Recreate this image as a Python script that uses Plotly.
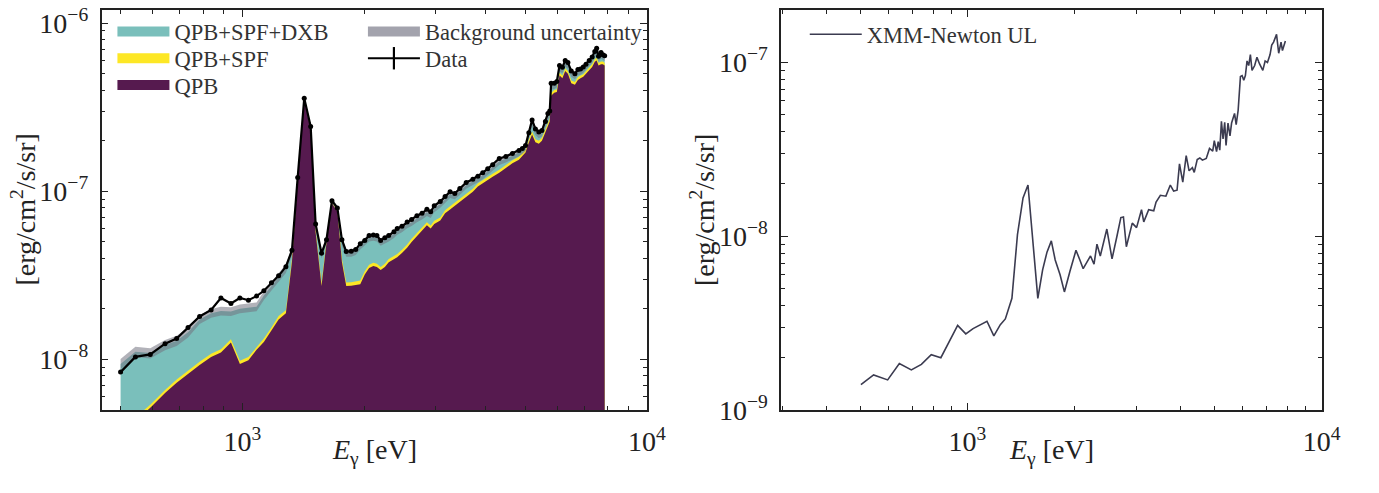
import plotly.graph_objects as go

# ---------------- Left panel: background model vs data (units of 1e-9 erg/cm2/s/sr) -------------
E_bkg = [500, 544, 592, 644, 688, 734, 784, 837, 885, 937,
         986, 1035, 1084, 1130, 1180, 1229, 1281, 1326, 1370, 1422,
         1475, 1517, 1569, 1614, 1665, 1717, 1762, 1806, 1858, 1906,
         1956, 2007, 2057, 2107, 2150, 2197, 2250, 2300, 2370, 2414,
         2480, 2554, 2620, 2700, 2780, 2858, 2920, 2980, 3084, 3170,
         3261, 3350, 3447, 3575, 3712, 3820, 3927, 4040, 4156, 4315,
         4480, 4650, 4826, 4920, 5010, 5105, 5201, 5300, 5404, 5500,
         5611, 5690, 5750, 5796, 5900, 5988, 6079, 6180, 6280, 6377,
         6500, 6636, 6750, 6850, 6960, 7068, 7200, 7320, 7432, 7510,
         7590, 7700, 7780, 7860]

data_flux = [8.4, 10.35, 10.7, 12.4, 13.3, 15.5, 18.0, 19.7, 23.2, 21.5,
             23.2, 22.5, 23.8, 25.6, 28.6, 31.4, 35.6, 44.6, 121, 358,
             243, 64, 42.8, 51.5, 88, 79.7, 51.5, 43.8, 44.0, 45.0,
             48.8, 51.0, 54.6, 55.0, 54.5, 51.0, 53.0, 54.5, 57.5, 60.0,
             62.0, 65.6, 68.0, 71.6, 74.0, 78.2, 75.5, 82.0, 87.0, 93.0,
             99.3, 97.0, 104, 113, 118, 123, 129, 136, 144, 157,
             161, 168, 175, 180, 187, 223, 266, 235, 225, 230,
             260, 290, 300, 440, 440, 450, 560, 547, 600, 583,
             520, 500, 530, 535, 550, 571, 600, 630, 680, 710,
             637, 670, 650, 640]

qpb_spf_dxb = [9.4, 11.1, 10.9, 12.2, 12.9, 14.5, 17.3, 18.8, 19.4, 19.3,
               20.0, 20.3, 20.6, 24.0, 27.3, 30.9, 34.7, 43.8, 120, 355,
               240, 63, 42, 51.5, 87.5, 79, 50, 43, 43, 44,
               47.5, 50, 53, 53.5, 53, 50, 51.5, 53, 55.5, 58,
               60, 63.5, 65.5, 69, 71.5, 75, 73, 79, 84, 90,
               96, 94.5, 100, 109, 114, 119, 124, 131, 139, 151,
               156, 163, 170, 175, 182, 215, 255, 228, 218, 223,
               252, 280, 290, 425, 428, 438, 545, 530, 580, 565,
               505, 488, 515, 520, 535, 555, 585, 610, 660, 685,
               620, 650, 635, 625]

qpb_spf = [3.92, 4.5, 5.38, 6.58, 7.58, 8.57, 9.67, 10.8, 11.5, 13.2,
           9.82, 10.35, 11.9, 13.3, 15.5, 18.1, 19.6, 39.5, 117, 352,
           237, 59, 28.6, 50.5, 86, 77.5, 39.7, 28.7, 28.8, 29,
           29.5, 33.5, 36.6, 37.6, 37.1, 35.5, 37.1, 39.6, 41.4, 42.3,
           44.9, 48.2, 52.2, 56.4, 60.5, 65.5, 62.6, 66.8, 69.9, 77.2,
           81.4, 85.5, 90.7, 97, 103.5, 111.5, 116.7, 120.9, 127, 134.5,
           143.8, 153, 160.4, 168.6, 177, 203, 227, 204, 200, 208,
           232, 255, 270, 385, 401, 405, 509, 488, 540, 519,
           457, 447, 478, 488, 498, 519, 550, 571, 612, 623,
           582, 592, 592, 582]

qpb = [3.75, 4.3, 5.15, 6.3, 7.25, 8.2, 9.25, 10.35, 11.0, 12.6,
       9.4, 9.9, 11.4, 12.7, 14.8, 17.3, 18.8, 38, 115, 350,
       235, 57, 27.3, 49.3, 84.5, 76, 38, 27.3, 27.4, 27.6,
       28, 32, 35, 36, 35.5, 34, 35.5, 37.9, 39.6, 40.5,
       43, 46.2, 50, 54, 58, 62.8, 60, 64, 67, 74,
       78, 82, 87, 93, 99.3, 107, 112, 116, 122, 129,
       138, 147, 154, 162, 170, 195, 218, 196, 192, 200,
       223, 245, 260, 370, 386, 390, 490, 470, 520, 500,
       440, 430, 460, 470, 480, 500, 530, 550, 590, 600,
       560, 570, 570, 560]

# fractional background uncertainty (half-width of the grey band)
bkg_unc = [0.07, 0.07, 0.07, 0.07, 0.07, 0.07, 0.06, 0.06, 0.06, 0.06,
           0.06, 0.06, 0.06, 0.06, 0.06, 0.06, 0.06, 0.05, 0.04, 0.04,
           0.04, 0.05, 0.05, 0.05, 0.04, 0.04, 0.05, 0.05, 0.05, 0.05,
           0.05, 0.05, 0.05, 0.05, 0.05, 0.05, 0.05, 0.05, 0.05, 0.05,
           0.05, 0.05, 0.05, 0.05, 0.05, 0.05, 0.05, 0.05, 0.05, 0.05,
           0.05, 0.05, 0.05, 0.05, 0.05, 0.05, 0.05, 0.05, 0.05, 0.05,
           0.05, 0.05, 0.05, 0.05, 0.05, 0.05, 0.05, 0.05, 0.05, 0.05,
           0.05, 0.05, 0.05, 0.05, 0.05, 0.05, 0.05, 0.05, 0.05, 0.05,
           0.05, 0.05, 0.05, 0.05, 0.05, 0.05, 0.05, 0.05, 0.05, 0.05,
           0.05, 0.05, 0.05, 0.05]

# ---------------- Right panel: XMM-Newton upper limit (units of 1e-9) -------------
E_ul = [500, 543, 595, 642, 694, 741, 790, 841, 938, 989,
        1037, 1135, 1187, 1238, 1279, 1335, 1384, 1435, 1482, 1580,
        1630, 1677, 1725, 1769, 1826, 1878, 1948, 2025, 2077, 2122,
        2226, 2277, 2321, 2372, 2475, 2560, 2643, 2711, 2757, 2810,
        2920, 3003, 3101, 3147, 3249, 3358, 3409, 3506, 3634, 3740,
        3822, 3908, 3970, 4056, 4147, 4226, 4317, 4370, 4455, 4532,
        4608, 4725, 4826, 4928, 4979, 5052, 5107, 5159, 5215, 5270,
        5327, 5374, 5443, 5513, 5571, 5679, 5740, 5814, 5901, 5966,
        6030, 6094, 6160, 6227, 6295, 6363, 6474, 6570, 6683, 6826,
        6929, 7035, 7155, 7232, 7320, 7463, 7568, 7685, 7755, 7836, 7905]

xmm_ul = [1.40, 1.59, 1.49, 1.85, 1.70, 1.83, 2.08, 2.0, 3.07, 2.74,
          2.94, 3.24, 2.67, 3.1, 3.34, 4.39, 10.2, 16.6, 19.7, 4.39,
          6.4, 8.1, 9.4, 7.3, 6.0, 4.78, 6.3, 8.3, 7.3, 6.5,
          7.7, 6.9, 9.0, 7.7, 11.0, 7.4, 10.0, 12.8, 12.9, 8.7,
          11.9, 11.2, 14.2, 12.1, 14.2, 14.0, 15.7, 17.2, 17.0, 19.7,
          18.2, 18.4, 26.1, 20.5, 29.1, 23.8, 24.8, 23.3, 27.6, 28.2,
          27.4, 28.0, 32.0, 30.9, 35.5, 30.7, 35.0, 31.3, 45.8, 36.3,
          45.2, 33.3, 44.8, 37.8, 44.8, 50.9, 43.9, 53.0, 83, 84,
          79, 84, 102, 96, 111, 90, 96, 107, 98, 90,
          102, 100, 111, 126, 131, 145, 113, 131, 117, 128, 133]

x_tick_vals = [1e3, 1e4]
x_tick_text = ["10<sup>3</sup>", "10<sup>4</sup>"]
y1_tick_vals = [1e-8, 1e-7, 1e-6]
y1_tick_text = ["10<sup>\u22128</sup>", "10<sup>\u22127</sup>", "10<sup>\u22126</sup>"]
y2_tick_vals = [1e-9, 1e-8, 1e-7]
y2_tick_text = ["10<sup>\u22129</sup>", "10<sup>\u22128</sup>", "10<sup>\u22127</sup>"]

n = len(E_bkg)
for arr in (data_flux, qpb_spf_dxb, qpb_spf, qpb, bkg_unc):
    assert len(arr) == n, len(arr)
assert len(E_ul) == len(xmm_ul)

UNIT = 1e-9
FLOOR = 1e-12
FONT = "Liberation Serif"
INK = "#222222"
C_TEAL, C_YEL, C_PUR = "#7abfbb", "#fde725", "#561a4f"
C_BAND = "rgba(115,115,128,0.55)"

def scaled(v):
    return [a * UNIT for a in v]

fig = go.Figure()

def layer(top, color):
    xs = E_bkg + E_bkg[::-1]
    ys = scaled(top) + [FLOOR] * n
    fig.add_trace(go.Scatter(x=xs, y=ys, mode="lines", fill="toself", fillcolor=color,
                             line=dict(width=0, color=color), showlegend=False,
                             hoverinfo="skip", xaxis="x", yaxis="y"))

layer(qpb_spf_dxb, C_TEAL)
layer(qpb_spf, C_YEL)
layer(qpb, C_PUR)

tot = scaled(qpb_spf_dxb)
hi = [t * (1 + u) for t, u in zip(tot, bkg_unc)]
lo = [t * (1 - u) for t, u in zip(tot, bkg_unc)]
fig.add_trace(go.Scatter(x=E_bkg + E_bkg[::-1], y=hi + lo[::-1], mode="lines", fill="toself",
                         fillcolor=C_BAND, line=dict(width=0), showlegend=False,
                         hoverinfo="skip", xaxis="x", yaxis="y"))

fig.add_trace(go.Scatter(x=E_bkg, y=scaled(data_flux), mode="lines+markers",
                         line=dict(color="black", width=2.2),
                         marker=dict(color="black", size=5),
                         showlegend=False, xaxis="x", yaxis="y"))

fig.add_trace(go.Scatter(x=E_ul, y=scaled(xmm_ul), mode="lines",
                         line=dict(color="#3b3b50", width=1.6),
                         name="XMM-Newton UL", legend="legend6", xaxis="x2", yaxis="y2"))

# legend swatches (legend-only entries, one legend box per entry to match the layout)
def swatch(name, color, legend):
    fig.add_trace(go.Scatter(x=[None], y=[None], mode="lines", line=dict(color=color, width=14),
                             name=name, legend=legend, xaxis="x", yaxis="y"))

swatch("QPB+SPF+DXB", C_TEAL, "legend")
swatch("QPB+SPF", C_YEL, "legend2")
swatch("QPB", C_PUR, "legend3")
swatch("Background uncertainty", "rgba(140,140,152,0.8)", "legend4")
fig.add_trace(go.Scatter(x=[None], y=[None], mode="lines+markers",
                         line=dict(color="black", width=2.2),
                         marker=dict(symbol="line-ns", size=18, line=dict(color="black", width=2.2)),
                         name="Data", legend="legend5", xaxis="x", yaxis="y"))

minor_x = [300, 400, 500, 600, 700, 800, 900, 2000, 3000, 4000, 5000, 6000, 7000, 8000, 9000]
minor_y = [m * 10.0 ** k for k in (-10, -9, -8, -7, -6) for m in range(2, 10)]

def axis_common():
    return dict(type="log", showgrid=False, zeroline=False, showline=True, linecolor=INK,
                linewidth=1.5, mirror="ticks", ticks="inside", ticklen=7, tickwidth=1.2,
                tickcolor=INK, tickfont=dict(family=FONT, size=28, color=INK),
                ticklabelstandoff=6)

def minor():
    return dict(tickvals=None, ticks="inside", ticklen=4, tickwidth=1, tickcolor=INK, showgrid=False)

def leg(xpx, ypx):
    return dict(x=xpx / 1379, y=1 - ypx / 493, xanchor="left", yanchor="middle",
                bgcolor="rgba(0,0,0,0)", font=dict(family=FONT, size=22.5, color="#333333"),
                tracegroupgap=0, itemwidth=52)

dom_y = [70 / 493, 488 / 493]
mx = minor(); mx["tickvals"] = minor_x
my = minor(); my["tickvals"] = minor_y
fig.update_layout(
    width=1379, height=493, margin=dict(l=0, r=0, t=0, b=0),
    paper_bgcolor="white", plot_bgcolor="white",
    xaxis=dict(axis_common(), domain=[103 / 1379, 656 / 1379], range=[2.652, 4.0], anchor="y",
               tickvals=x_tick_vals, ticktext=x_tick_text, minor=mx),
    yaxis=dict(axis_common(), domain=dom_y, range=[-8.301, -5.92], anchor="x",
               tickvals=y1_tick_vals, ticktext=y1_tick_text, minor=my),
    xaxis2=dict(axis_common(), domain=[792 / 1379, 1340 / 1379], range=[2.4735, 4.0], anchor="y2",
                tickvals=x_tick_vals, ticktext=x_tick_text, minor=mx),
    yaxis2=dict(axis_common(), domain=dom_y, range=[-9.0, -6.697], anchor="x2",
                tickvals=y2_tick_vals, ticktext=y2_tick_text, minor=my),
    legend=leg(114, 28),
    legend2=leg(114, 56),
    legend3=leg(114, 84),
    legend4=leg(368, 28),
    legend5=leg(368, 56),
    legend6=leg(816, 31),
    showlegend=True,
)

xtitle = "<i>E</i><sub>\u03b3</sub> [eV]"
ytitle = "[erg/cm<sup>2</sup>/s/sr]"
ann_font = dict(family=FONT, size=28, color=INK)
fig.add_annotation(text=xtitle, x=379.5 / 1379, y=1 - 466 / 493, xref="paper", yref="paper",
                   showarrow=False, font=ann_font, xanchor="center", yanchor="middle")
fig.add_annotation(text=xtitle, x=1066 / 1379, y=1 - 466 / 493, xref="paper", yref="paper",
                   showarrow=False, font=ann_font, xanchor="center", yanchor="middle")
fig.add_annotation(text=ytitle, x=24 / 1379, y=1 - 214 / 493, xref="paper", yref="paper",
                   showarrow=False, font=ann_font, textangle=-90, xanchor="center", yanchor="middle")
fig.add_annotation(text=ytitle, x=713 / 1379, y=1 - 214 / 493, xref="paper", yref="paper",
                   showarrow=False, font=ann_font, textangle=-90, xanchor="center", yanchor="middle")

fig.write_html("out.html")
